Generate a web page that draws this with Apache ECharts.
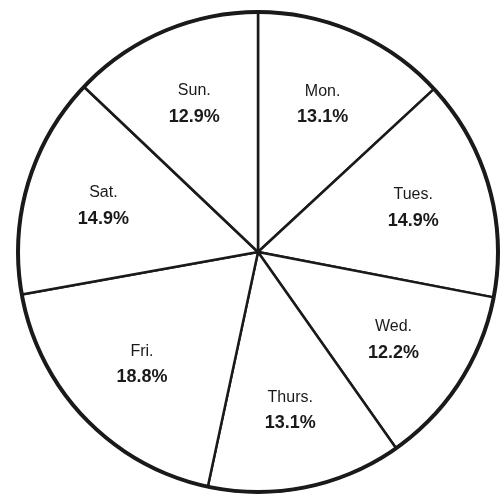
<!DOCTYPE html>
<html>
<head>
<meta charset="utf-8">
<style>
  html, body { margin: 0; padding: 0; background: #fff; }
  #chart { width: 503px; height: 497px; }
</style>
<script src="https://cdn.jsdelivr.net/npm/echarts@6/dist/echarts.min.js"></script>
</head>
<body>
<div id="chart"></div>
<script>
var days = ["Mon.", "Tues.", "Wed.", "Thurs.", "Fri.", "Sat.", "Sun."];
var shares = [13.1, 14.9, 12.2, 13.1, 18.8, 14.9, 12.9];

var pieData = days.map(function(d, i){
  return { name: d, value: shares[i] };
});

var center = [258, 252];
var R = 240;

var myChart = echarts.init(document.getElementById("chart"));
myChart.setOption({
  animation: false,
  backgroundColor: "#fff",
  series: [
    // slices with the wedge lines
    {
      type: "pie",
      center: center,
      radius: [0, R],
      startAngle: 90,
      clockwise: true,
      silent: true,
      label: { show: false },
      labelLine: { show: false },
      itemStyle: { color: "#fff", borderColor: "#1a1a1a", borderWidth: 2.5 },
      data: pieData
    },
    // outer ring, drawn heavier
    {
      type: "pie",
      center: center,
      radius: [R - 2, R + 2],
      silent: true,
      label: { show: false },
      labelLine: { show: false },
      itemStyle: { color: "#1a1a1a" },
      data: [1]
    },
    // labels only, placed around 2/3 of the radius
    {
      type: "pie",
      center: center,
      radius: [R * 0.32, R],
      startAngle: 90,
      clockwise: true,
      silent: true,
      itemStyle: { color: "transparent" },
      labelLine: { show: false },
      label: {
        show: true,
        position: "inside",
        formatter: function(p){
          return "{n|" + p.name + "}\n{v|" + p.value.toFixed(1) + "%}";
        },
        rich: {
          n: { fontFamily: "Liberation Sans", fontSize: 16, color: "#1a1a1a", lineHeight: 26 },
          v: { fontFamily: "Liberation Sans", fontWeight: "bold", fontSize: 18, color: "#1a1a1a", lineHeight: 26 }
        }
      },
      data: pieData
    }
  ]
});
</script>
</body>
</html>
